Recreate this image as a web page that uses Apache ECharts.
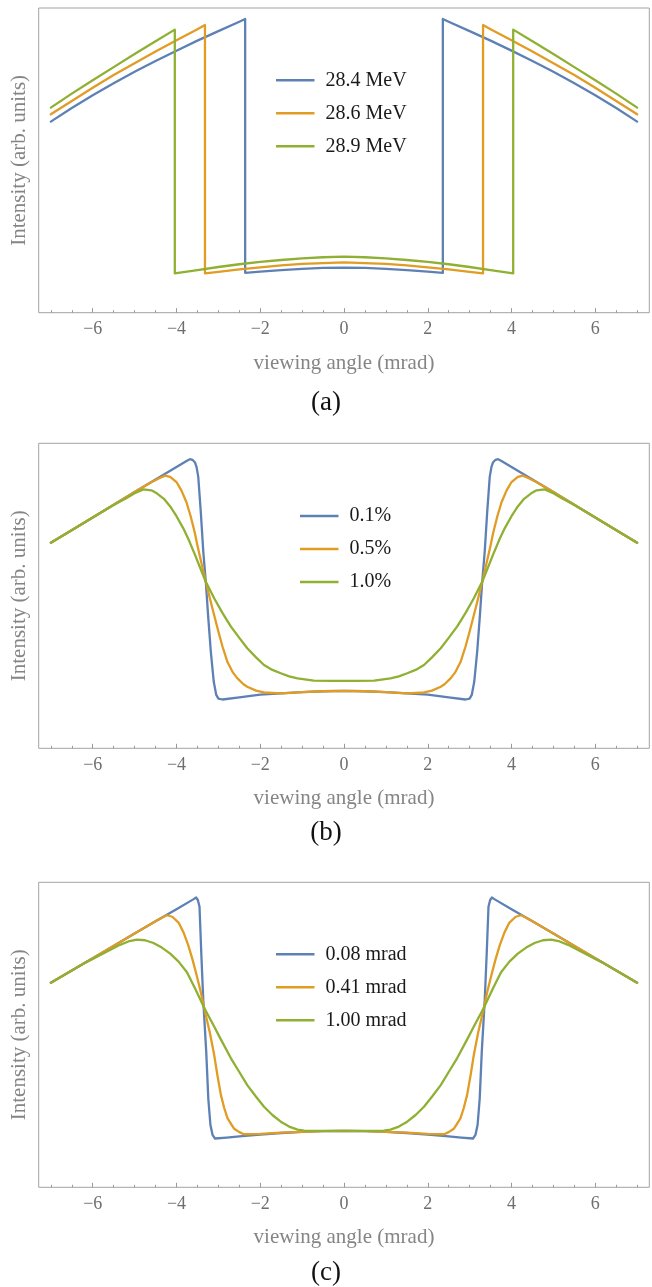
<!DOCTYPE html>
<html><head><meta charset="utf-8">
<script src="https://cdn.jsdelivr.net/npm/echarts@6/dist/echarts.min.js"></script>
<style>html,body{margin:0;padding:0;background:#fff}#c{width:652px;height:1287px}</style>
</head><body><div id="c"></div>
<script>
// ---- tick positions / labels ----
const majorTicks = [-6, -4, -2, 0, 2, 4, 6];
const minorTicks = [-7, -6.5, -5.5, -5, -4.5, -3.5, -3, -2.5, -1.5, -1, -0.5, 0.5, 1, 1.5, 2.5, 3, 3.5, 4.5, 5, 5.5, 6.5, 7];
const xTitle = 'viewing angle (mrad)';
const yTitle = 'Intensity (arb. units)';
const captions = ['(a)', '(b)', '(c)'];

// ---- series names ----
const namesA = ['28.4 MeV', '28.6 MeV', '28.9 MeV'];
const namesB = ['0.1%', '0.5%', '1.0%'];
const namesC = ['0.08 mrad', '0.41 mrad', '1.00 mrad'];

// ---- panel (a) data [angle, intensity] ----
const blueA = [[-7,0.627],[-6.5,0.672],[-6,0.714],[-5.5,0.753],[-5,0.791],[-4.5,0.826],[-4,0.860],[-3.5,0.893],[-3,0.924],[-2.5,0.955],[-2.36,0.964],[-2.36,0.131],[-2,0.135],[-1.5,0.140],[-1,0.144],[-0.5,0.147],[0,0.148],[0.5,0.147],[1,0.144],[1.5,0.140],[2,0.135],[2.36,0.131],[2.36,0.964],[2.5,0.955],[3,0.924],[3.5,0.893],[4,0.860],[4.5,0.826],[5,0.791],[5.5,0.753],[6,0.714],[6.5,0.672],[7,0.627]];
const orangeA = [[-7,0.651],[-6.5,0.695],[-6,0.738],[-5.5,0.780],[-5,0.819],[-4.5,0.857],[-4,0.894],[-3.5,0.930],[-3.32,0.944],[-3.32,0.129],[-3,0.134],[-2.5,0.142],[-2,0.149],[-1.5,0.155],[-1,0.160],[-0.5,0.163],[0,0.165],[0.5,0.163],[1,0.160],[1.5,0.155],[2,0.149],[2.5,0.142],[3,0.134],[3.32,0.129],[3.32,0.944],[3.5,0.930],[4,0.894],[4.5,0.857],[5,0.819],[5.5,0.780],[6,0.738],[6.5,0.695],[7,0.651]];
const greenA = [[-7,0.673],[-6.5,0.719],[-6,0.763],[-5.5,0.806],[-5,0.849],[-4.5,0.891],[-4.04,0.929],[-4.04,0.129],[-3.5,0.140],[-3,0.150],[-2.5,0.159],[-2,0.167],[-1.5,0.173],[-1,0.178],[-0.5,0.182],[0,0.184],[0.5,0.182],[1,0.178],[1.5,0.173],[2,0.167],[2.5,0.159],[3,0.150],[3.5,0.140],[4.04,0.129],[4.04,0.929],[4.5,0.891],[5,0.849],[5.5,0.806],[6,0.763],[6.5,0.719],[7,0.673]];

// ---- panel (b) data ----
const blueB = [[-7,0.674],[-6,0.757],[-5,0.840],[-4.5,0.881],[-4,0.922],[-3.75,0.943],[-3.68,0.948],[-3.62,0.946],[-3.56,0.938],[-3.52,0.922],[-3.48,0.890],[-3.42,0.776],[-3.36,0.645],[-3.30,0.546],[-3.24,0.426],[-3.18,0.317],[-3.11,0.218],[-3.05,0.175],[-3.0,0.163],[-2.9,0.160],[-2.5,0.167],[-2,0.176],[-1.5,0.180],[-1,0.184],[-0.5,0.187],[0,0.188],[0.5,0.187],[1,0.184],[1.5,0.180],[2,0.176],[2.5,0.167],[2.9,0.160],[3.0,0.163],[3.05,0.175],[3.11,0.218],[3.18,0.317],[3.24,0.426],[3.30,0.546],[3.36,0.645],[3.42,0.776],[3.48,0.890],[3.52,0.922],[3.56,0.938],[3.62,0.946],[3.68,0.948],[3.75,0.943],[4,0.922],[4.5,0.881],[5,0.840],[6,0.757],[7,0.674]];
const orangeB = [[-7,0.674],[-6,0.757],[-5,0.840],[-4.6,0.872],[-4.4,0.886],[-4.27,0.894],[-4.15,0.890],[-4.0,0.873],[-3.88,0.845],[-3.76,0.806],[-3.66,0.760],[-3.56,0.705],[-3.50,0.665],[-3.40,0.605],[-3.30,0.546],[-3.20,0.490],[-3.10,0.436],[-3.0,0.383],[-2.9,0.333],[-2.78,0.282],[-2.65,0.248],[-2.55,0.230],[-2.4,0.210],[-2.31,0.202],[-2.1,0.189],[-1.91,0.183],[-1.51,0.180],[-1,0.184],[-0.5,0.187],[0,0.188],[0.5,0.187],[1,0.184],[1.51,0.180],[1.91,0.183],[2.1,0.189],[2.31,0.202],[2.4,0.210],[2.55,0.230],[2.65,0.248],[2.78,0.282],[2.9,0.333],[3.0,0.383],[3.10,0.436],[3.20,0.490],[3.30,0.546],[3.40,0.605],[3.50,0.665],[3.56,0.705],[3.66,0.760],[3.76,0.806],[3.88,0.845],[4.0,0.873],[4.15,0.890],[4.27,0.894],[4.4,0.886],[4.6,0.872],[5,0.840],[6,0.757],[7,0.674]];
const greenB = [[-7,0.674],[-6.5,0.715],[-6,0.757],[-5.5,0.798],[-5.2,0.820],[-5,0.836],[-4.79,0.849],[-4.6,0.846],[-4.47,0.836],[-4.3,0.818],[-4.15,0.793],[-4.0,0.761],[-3.84,0.722],[-3.7,0.681],[-3.56,0.635],[-3.43,0.590],[-3.30,0.546],[-3.10,0.492],[-2.9,0.443],[-2.70,0.399],[-2.5,0.362],[-2.31,0.328],[-2.1,0.298],[-1.91,0.273],[-1.71,0.257],[-1.51,0.246],[-1.31,0.236],[-1.11,0.229],[-0.72,0.222],[-0.3,0.221],[0,0.221],[0.3,0.221],[0.72,0.222],[1.11,0.229],[1.31,0.236],[1.51,0.246],[1.71,0.257],[1.91,0.273],[2.1,0.298],[2.31,0.328],[2.5,0.362],[2.70,0.399],[2.9,0.443],[3.10,0.492],[3.30,0.546],[3.43,0.590],[3.56,0.635],[3.7,0.681],[3.84,0.722],[4.0,0.761],[4.15,0.793],[4.3,0.818],[4.47,0.836],[4.6,0.846],[4.79,0.849],[5,0.836],[5.2,0.820],[5.5,0.798],[6,0.757],[6.5,0.715],[7,0.674]];

// ---- panel (c) data ----
const blueC = [[-7,0.671],[-6,0.751],[-5,0.832],[-4.5,0.872],[-4,0.912],[-3.6,0.944],[-3.53,0.950],[-3.49,0.942],[-3.45,0.920],[-3.41,0.775],[-3.36,0.612],[-3.29,0.445],[-3.24,0.290],[-3.19,0.205],[-3.14,0.172],[-3.08,0.160],[-2.8,0.163],[-2.5,0.167],[-2,0.173],[-1.5,0.178],[-1,0.182],[-0.5,0.184],[0,0.185],[0.5,0.184],[1,0.182],[1.5,0.178],[2,0.173],[2.5,0.167],[2.8,0.163],[3.08,0.160],[3.14,0.172],[3.19,0.205],[3.24,0.290],[3.29,0.445],[3.36,0.612],[3.41,0.775],[3.45,0.920],[3.49,0.942],[3.53,0.950],[3.6,0.944],[4,0.912],[4.5,0.872],[5,0.832],[6,0.751],[7,0.671]];
const orangeC = [[-7,0.671],[-6,0.751],[-5,0.832],[-4.5,0.872],[-4.35,0.884],[-4.23,0.892],[-4.1,0.887],[-3.95,0.868],[-3.83,0.835],[-3.72,0.794],[-3.62,0.748],[-3.52,0.696],[-3.42,0.640],[-3.33,0.582],[-3.20,0.505],[-3.10,0.434],[-3.02,0.365],[-2.94,0.303],[-2.86,0.260],[-2.78,0.226],[-2.63,0.193],[-2.5,0.181],[-2.39,0.174],[-2,0.175],[-1.5,0.179],[-1,0.182],[-0.5,0.184],[0,0.185],[0.5,0.184],[1,0.182],[1.5,0.179],[2,0.175],[2.39,0.174],[2.5,0.181],[2.63,0.193],[2.78,0.226],[2.86,0.260],[2.94,0.303],[3.02,0.365],[3.10,0.434],[3.20,0.505],[3.33,0.582],[3.42,0.640],[3.52,0.696],[3.62,0.748],[3.72,0.794],[3.83,0.835],[3.95,0.868],[4.1,0.887],[4.23,0.892],[4.35,0.884],[4.5,0.872],[5,0.832],[6,0.751],[7,0.671]];
const greenC = [[-7,0.671],[-6.5,0.711],[-6.2,0.735],[-6,0.749],[-5.6,0.777],[-5.35,0.795],[-5.15,0.806],[-4.95,0.812],[-4.75,0.810],[-4.55,0.801],[-4.35,0.786],[-4.15,0.766],[-3.95,0.740],[-3.75,0.705],[-3.55,0.650],[-3.33,0.586],[-3.10,0.527],[-2.96,0.490],[-2.70,0.423],[-2.5,0.378],[-2.31,0.335],[-2.1,0.297],[-1.91,0.264],[-1.71,0.237],[-1.51,0.215],[-1.31,0.199],[-1.11,0.189],[-0.95,0.186],[-0.5,0.185],[0,0.185],[0.5,0.185],[0.95,0.186],[1.11,0.189],[1.31,0.199],[1.51,0.215],[1.71,0.237],[1.91,0.264],[2.1,0.297],[2.31,0.335],[2.5,0.378],[2.70,0.423],[2.96,0.490],[3.10,0.527],[3.33,0.586],[3.55,0.650],[3.75,0.705],[3.95,0.740],[4.15,0.766],[4.35,0.786],[4.55,0.801],[4.75,0.810],[4.95,0.812],[5.15,0.806],[5.35,0.795],[5.6,0.777],[6,0.749],[6.2,0.735],[6.5,0.711],[7,0.671]];

// ---- styling ----
const SERIF = "'Liberation Serif','Times New Roman',serif";
const colors = ['#5E81B5', '#E19C24', '#8FB032'];
const panels = [
  { top: 8, height: 304.7, names: namesA, data: [blueA, orangeA, greenA], legend: { left: 276, top: 70.3 }, capY: 402.5 },
  { top: 443.3, height: 305, names: namesB, data: [blueB, orangeB, greenB], legend: { left: 300, top: 506 }, capY: 833 },
  { top: 882.3, height: 305, names: namesC, data: [blueC, orangeC, greenC], legend: { left: 276, top: 944.3 }, capY: 1273 }
];
const fmt = v => v < 0 ? '\u2212' + Math.abs(v) : String(v);

const option = { animation: false, grid: [], xAxis: [], yAxis: [], series: [], legend: [], graphic: [] };
panels.forEach((p, i) => {
  option.grid.push({ left: 38.7, right: 2.7, top: p.top, height: p.height, show: true, borderColor: '#a3a3a3', borderWidth: 1, backgroundColor: 'transparent' });
  option.xAxis.push({
    type: 'value', gridIndex: i, min: -7.29, max: 7.29, position: 'bottom',
    axisLine: { show: false },
    axisTick: { show: true, inside: true, length: 4.5, customValues: majorTicks, lineStyle: { color: '#999', width: 1 } },
    axisLabel: { customValues: majorTicks, formatter: fmt, color: '#6e6e6e', fontSize: 18, fontFamily: SERIF, margin: 8 },
    splitLine: { show: false },
    name: xTitle, nameLocation: 'middle', nameGap: 40,
    nameTextStyle: { fontSize: 21, color: '#858585', fontFamily: SERIF }
  });
  option.yAxis.push({
    type: 'value', gridIndex: i, min: 0, max: 1,
    axisLine: { show: false }, axisTick: { show: false }, axisLabel: { show: false }, splitLine: { show: false },
    name: yTitle, nameLocation: 'middle', nameGap: 9,
    nameTextStyle: { fontSize: 21, color: '#858585', fontFamily: SERIF }
  });
  p.data.forEach((d, k) => {
    option.series.push({
      type: 'line', name: p.names[k], xAxisIndex: i, yAxisIndex: i, data: d,
      showSymbol: false, symbol: 'none', silent: true, smooth: false,
      lineStyle: { width: 2.3, color: colors[k], join: 'round', cap: 'round' }, itemStyle: { color: colors[k] }
    });
  });
  option.legend.push({
    orient: 'vertical', left: p.legend.left, top: p.legend.top, data: p.names, selectedMode: false,
    icon: 'rect', itemWidth: 38.5, itemHeight: 2.6, itemGap: 13, padding: 0,
    textStyle: { fontSize: 20, fontFamily: SERIF, color: '#1a1a1a', lineHeight: 20, padding: [0, 0, 0, 6] }
  });
  option.graphic.push({ type: 'text', x: 326, y: p.capY, style: { text: captions[i], textAlign: 'center', textVerticalAlign: 'middle', font: '27px ' + SERIF, fill: '#111' } });
});
// minor tick axes
panels.forEach((p, i) => {
  option.xAxis.push({
    type: 'value', gridIndex: i, min: -7.29, max: 7.29, position: 'bottom', offset: 0,
    axisLine: { show: false },
    axisTick: { show: true, inside: true, length: 2.5, customValues: minorTicks, lineStyle: { color: '#999', width: 1 } },
    axisLabel: { show: false }, splitLine: { show: false }
  });
});

const chart = echarts.init(document.getElementById('c'), null, { renderer: 'canvas' });
chart.setOption(option);
</script>
</body></html>
